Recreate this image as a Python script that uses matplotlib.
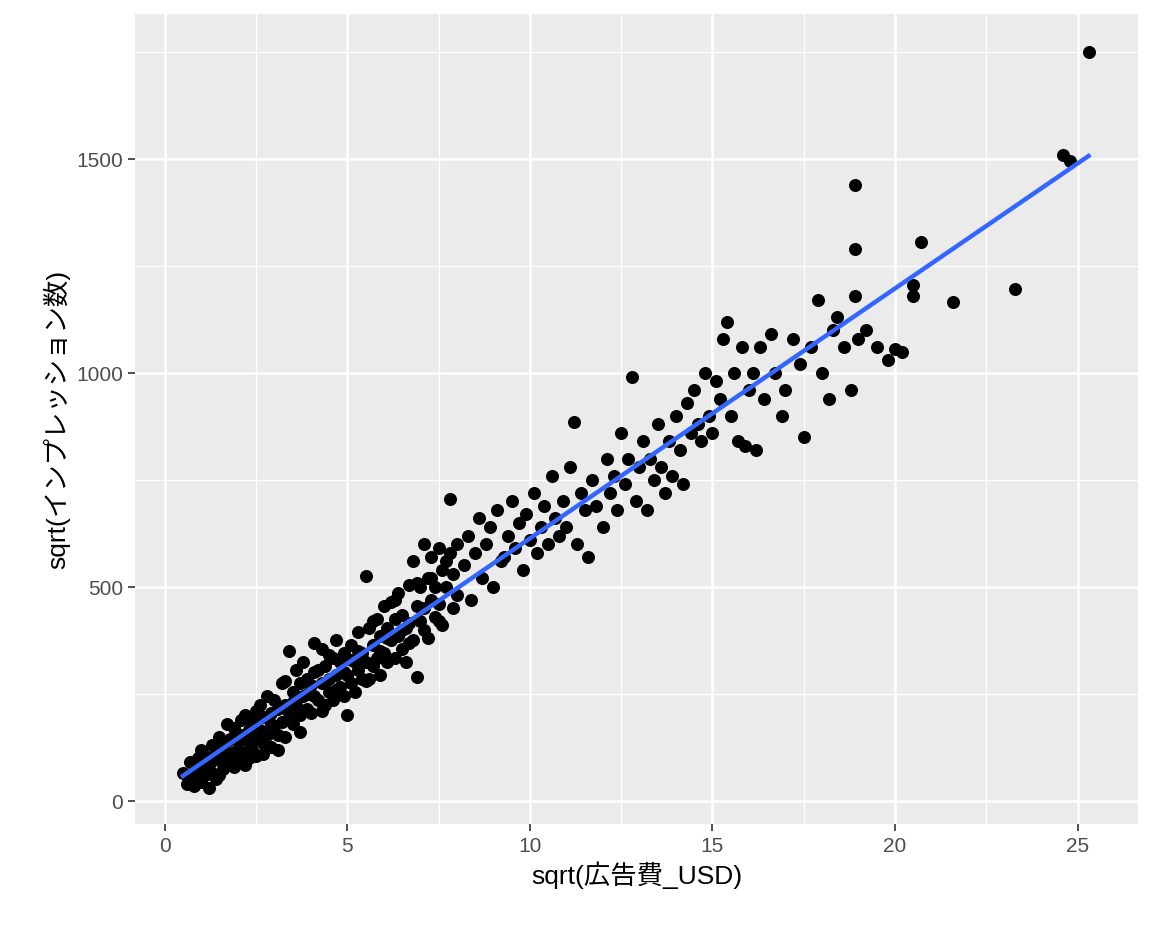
import matplotlib
matplotlib.use("Agg")
import matplotlib.pyplot as plt
import numpy as np

plt.rcParams["font.family"] = ["Liberation Sans", "Noto Sans CJK JP", "DejaVu Sans"]

# hand-read points: (sqrt ad spend, sqrt impressions)
pts = [
    (0.5, 65), (0.6, 40), (0.7, 50), (0.8, 70), (0.8, 35), (0.9, 100), (0.9, 55), (1.0, 80), (1.0, 45),
    (1.1, 105), (1.1, 60), (1.2, 30), (1.2, 85), (1.3, 130), (1.3, 65), (1.4, 115), (1.4, 50), (1.5, 95),
    (1.5, 150), (1.6, 75), (1.6, 125), (1.7, 180), (1.7, 105), (1.8, 85), (1.8, 145), (1.9, 115), (1.9, 170),
    (2.0, 95), (2.0, 140), (2.1, 155), (2.1, 115), (2.2, 200), (2.2, 85), (2.3, 135), (2.3, 165), (2.4, 120),
    (2.4, 185), (2.5, 145), (2.5, 105), (2.6, 225), (2.6, 165), (2.7, 135), (2.7, 195), (2.8, 245), (2.8, 155),
    (2.9, 125), (2.9, 205), (3.0, 175), (3.0, 235), (3.1, 155), (3.1, 215), (3.2, 275), (3.2, 185), (3.3, 150),
    (3.3, 225), (3.4, 350), (3.4, 205), (3.5, 255), (3.5, 180), (3.6, 305), (3.6, 225), (3.7, 200), (3.7, 275),
    (3.8, 245), (3.8, 325), (3.9, 215), (3.9, 285), (4.0, 270), (4.0, 205), (4.1, 370), (4.1, 245), (4.2, 305),
    (4.2, 235), (4.3, 275), (4.3, 355), (4.4, 225), (4.4, 315), (4.5, 285), (4.5, 255), (4.6, 335), (4.6, 235),
    (4.7, 295), (4.7, 375), (4.8, 265), (4.8, 325), (4.9, 245), (4.9, 345), (5.0, 200), (5.0, 295), (5.1, 365),
    (5.1, 275), (5.2, 325), (5.2, 255), (5.3, 395), (5.3, 305), (5.4, 285), (5.4, 345), (5.5, 525), (5.5, 325),
    (5.6, 405), (5.6, 285), (5.7, 365), (5.7, 315), (5.8, 425), (5.8, 335), (5.9, 385), (5.9, 295), (6.0, 455),
    (6.0, 345), (6.1, 405), (6.1, 325), (6.2, 465), (6.2, 375), (6.3, 335), (6.3, 425), (6.4, 485), (6.4, 385),
    (6.5, 355), (6.5, 435), (6.6, 405), (6.6, 325), (6.7, 505), (6.7, 415), (6.8, 375), (6.8, 560), (6.9, 455),
    (6.9, 290), (7.0, 500), (7.0, 420), (7.1, 600), (7.1, 450), (7.2, 380), (7.2, 520), (7.3, 470), (7.3, 570),
    (7.4, 430), (7.4, 500), (7.5, 590), (7.5, 460), (7.6, 410), (7.6, 540), (7.7, 500), (7.8, 705), (7.8, 580),
    (7.9, 450), (7.9, 530), (8.0, 600), (8.0, 480),
    (0.7, 90), (1.0, 120), (1.3, 100), (1.5, 60), (1.7, 140), (1.9, 80), (2.1, 190), (2.3, 100), (2.5, 210),
    (2.7, 110), (2.9, 180), (3.1, 120), (3.3, 280), (3.5, 230), (3.7, 160), (3.9, 250), (4.1, 300), (4.3, 210),
    (4.5, 340), (4.7, 260), (4.9, 300), (5.1, 330), (5.3, 350), (5.5, 280), (5.7, 420), (5.9, 350), (6.1, 380),
    (6.3, 470), (6.5, 400), (6.7, 370), (6.9, 510), (7.1, 400), (7.3, 520), (7.5, 420), (7.7, 560),
    (8.2, 550), (8.3, 620), (8.4, 470), (8.5, 580), (8.6, 660), (8.7, 520), (8.8, 600), (8.9, 640), (9.0, 500),
    (9.1, 680), (9.2, 560), (9.3, 570), (9.4, 620), (9.5, 700), (9.6, 590), (9.7, 650), (9.8, 540), (9.9, 670),
    (10.0, 610), (10.1, 720), (10.2, 580), (10.3, 640), (10.4, 690), (10.5, 600), (10.6, 760), (10.7, 660),
    (10.8, 620), (10.9, 700), (11.0, 640), (11.1, 780), (11.2, 885), (11.3, 600), (11.4, 720), (11.5, 680),
    (11.6, 570), (11.7, 750), (11.8, 690), (12.0, 640), (12.1, 800), (12.2, 720), (12.3, 760), (12.4, 680),
    (12.5, 860), (12.6, 740), (12.7, 800), (12.8, 990), (12.9, 700), (13.0, 780), (13.1, 840), (13.2, 680),
    (13.3, 800), (13.4, 750), (13.5, 880), (13.6, 780), (13.7, 720), (13.8, 840), (13.9, 760), (14.0, 900),
    (14.1, 820), (14.2, 740), (14.3, 930), (14.4, 860), (14.5, 960), (14.6, 880), (14.7, 840), (14.8, 1000),
    (14.9, 900), (15.0, 860), (15.1, 980), (15.2, 940), (15.3, 1080), (15.4, 1120), (15.5, 900), (15.6, 1000),
    (15.7, 840), (15.8, 1060), (15.9, 830), (16.0, 960), (16.1, 1000), (16.2, 820), (16.3, 1060), (16.4, 940),
    (16.6, 1090), (16.7, 1000), (16.9, 900), (17.0, 960), (17.2, 1080), (17.4, 1020), (17.5, 850), (17.7, 1060),
    (17.9, 1170), (18.0, 1000), (18.2, 940), (18.3, 1100), (18.4, 1130), (18.6, 1060), (18.8, 960), (18.9, 1440),
    (18.9, 1290), (18.9, 1180), (19.0, 1080), (19.2, 1100), (19.5, 1060), (19.8, 1030), (20.0, 1055),
    (20.2, 1050), (20.5, 1205), (20.5, 1180), (20.7, 1305), (21.6, 1165), (23.3, 1195), (24.6, 1510),
    (24.8, 1495), (25.3, 1750),
]
x = np.array([p[0] for p in pts])
y = np.array([p[1] for p in pts])

fig = plt.figure(figsize=(11.52, 9.28), dpi=100)
ax = fig.add_axes([0.117, 0.111, 0.871, 0.873])
ax.set_facecolor("#EBEBEB")
for s in ax.spines.values():
    s.set_visible(False)

ax.set_xlim(-0.82, 26.66)
ax.set_ylim(-54, 1839)
ax.set_xticks([0, 5, 10, 15, 20, 25])
ax.set_yticks([0, 500, 1000, 1500])
ax.set_xticks(np.arange(2.5, 26, 5), minor=True)
ax.set_yticks([250, 750, 1250, 1750], minor=True)
ax.grid(True, which="major", color="white", lw=1.8)
ax.grid(True, which="minor", color="white", lw=0.9)
ax.set_axisbelow(True)
ax.tick_params(which="major", colors="#333333", labelcolor="#4D4D4D", labelsize=15, length=5, width=1.2)
ax.tick_params(which="minor", length=0)

ax.scatter(x, y, s=70, color="black", zorder=3)
k, b = np.polyfit(x, y, 1)
xl = np.array([x.min(), x.max()])
ax.plot(xl, k * xl + b, color="#3366FF", lw=3.2, zorder=4)

ax.set_xlabel("sqrt(広告費_USD)", fontsize=19)
ax.set_ylabel("sqrt(インプレッション数)", fontsize=19)

fig.savefig("out.png")
